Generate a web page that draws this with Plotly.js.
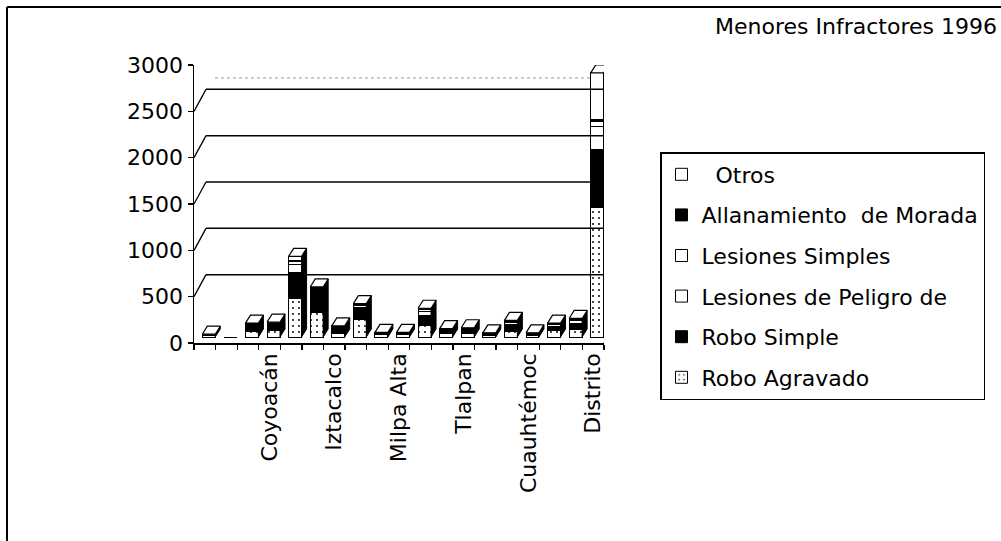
<!DOCTYPE html>
<html>
<head>
<meta charset="utf-8">
<script src="https://cdn.plot.ly/plotly-3.0.1.min.js"></script>
<style>
  html, body { margin: 0; padding: 0; background: #fff; }
  #chart { width: 1001px; height: 541px; }
</style>
</head>
<body>
<div id="chart"></div>
<script>
// ---- data ----
const categories = ["Álvaro Obregón", "Azcapotzalco", "Benito Juárez", "Coyoacán", "Cuajimalpa",
  "Gustavo A. Madero", "Iztacalco", "Iztapalapa", "Magdalena Contreras", "Milpa Alta",
  "Miguel Hidalgo", "Tláhuac", "Tlalpan", "Venustiano Carranza", "Xochimilco",
  "Cuauhtémoc", "Otros Estados", "No especificado", "Distrito"];
const tickLabels = ["Coyoacán", "Iztacalco", "Milpa Alta", "Tlalpan", "Cuauhtémoc", "Distrito"];

const roboAgravado    = [15, 0, 60, 70, 420, 260, 40, 190, 25, 25, 120, 35, 40, 20, 60, 20, 70, 80, 1400];
const roboSimple      = [5, 0, 50, 50, 280, 240, 50, 130, 10, 12, 110, 35, 40, 12, 70, 10, 45, 70, 620];
const lesionesPeligro = [3, 0, 15, 15, 80, 15, 10, 15, 5, 5, 45, 8, 8, 5, 25, 5, 15, 25, 250];
const lesionesSimples = [3, 0, 10, 10, 40, 10, 8, 10, 4, 3, 20, 5, 5, 3, 12, 4, 10, 10, 60];
const allanamiento    = [1, 0, 5, 5, 10, 5, 4, 5, 2, 1, 5, 2, 2, 1, 3, 2, 2, 5, 20];
const otros           = [3, 0, 10, 10, 40, 10, 8, 10, 4, 4, 10, 5, 5, 4, 10, 4, 8, 10, 500];

const yTicks = [0, 500, 1000, 1500, 2000, 2500, 3000];

// ---- geometry / style ----
const FONT = "DejaVu Sans";
const L = 194, R = 604, T = 65, B = 343;       // plot area in pixels
const pxPerCat = (R - L) / categories.length;
const pxPerUnit = (B - T) / 3000;
const shiftPx = 4, depthX = 5, depthY = 8, floorLift = 6;
const barW = 0.6;
const shiftX = shiftPx / pxPerCat;
const dX = depthX / pxPerCat;
const dY = depthY / pxPerUnit;
const liftUnits = floorLift / pxPerUnit;
const px2X = p => (p - L) / (R - L);
const px2Y = p => (B - p) / (B - T);

const idx = categories.map((c, i) => i);

const seriesDefs = [
  {name: "Robo Agravado", data: roboAgravado, color: "white",
   pattern: {shape: ".", fgcolor: "black", bgcolor: "white", size: 6, solidity: 0.08}},
  {name: "Robo Simple", data: roboSimple, color: "black"},
  {name: "Lesiones de Peligro de", data: lesionesPeligro, color: "white"},
  {name: "Lesiones Simples", data: lesionesSimples, color: "white"},
  {name: "Allanamiento\u00a0 de Morada", data: allanamiento, color: "black"},
  {name: "\u00a0\u00a0Otros", data: otros, color: "white"}
];

const traces = seriesDefs.map((s, k) => ({
  type: "bar",
  name: s.name,
  legendgroup: s.name,
  legendrank: seriesDefs.length - k,
  x: idx,
  y: s.data,
  width: barW,
  offset: -barW / 2 + shiftX,
  xaxis: "x",
  yaxis: "y2",
  marker: Object.assign({color: s.color, line: {color: "black", width: 1}},
                        s.pattern ? {pattern: s.pattern} : {}),
  hoverinfo: "skip"
}));

// 3D top and side faces, computed from the stacked totals
const totals = idx.map(i => seriesDefs.reduce((a, s) => a + s.data[i], 0));
const topX = [], topY = [], sideX = [], sideY = [];
idx.forEach(i => {
  if (totals[i] <= 0) return;
  const l = i + shiftX - barW / 2, r = i + shiftX + barW / 2, t = totals[i];
  topX.push(l, r, r + dX, l + dX, l, null);
  topY.push(t, t, t + dY, t + dY, t, null);
  sideX.push(r, r + dX, r + dX, r, r, null);
  sideY.push(0, dY, t + dY, t, 0, null);
});
traces.push({type: "scatter", mode: "lines", x: sideX, y: sideY, fill: "toself",
  fillcolor: "black", line: {color: "black", width: 1}, xaxis: "x", yaxis: "y2",
  showlegend: false, hoverinfo: "skip"});
traces.push({type: "scatter", mode: "lines", x: topX, y: topY, fill: "toself",
  fillcolor: "white", line: {color: "black", width: 1.2}, xaxis: "x", yaxis: "y2",
  showlegend: false, hoverinfo: "skip"});

// back-wall gridlines with diagonal stubs
const shapes = [];
yTicks.filter(v => v > 0 && v < 3000).forEach(v => {
  shapes.push({type: "line", xref: "x", yref: "y", xsizemode: "pixel", ysizemode: "pixel",
    xanchor: -0.5, yanchor: v, x0: 0, x1: 12, y0: 0, y1: 22,
    line: {color: "black", width: 1.3}});
  shapes.push({type: "line", xref: "x", yref: "y", xsizemode: "pixel", ysizemode: "pixel",
    xanchor: -0.5, yanchor: v, x0: 12, x1: 617 - L, y0: 22, y1: 22,
    line: {color: "black", width: 1.5}});
});
// right floor edge
shapes.push({type: "line", xref: "x", yref: "y", xsizemode: "pixel", ysizemode: "pixel",
  xanchor: categories.length - 0.5, yanchor: 0, x0: 0, x1: 12, y0: 0, y1: 22,
  line: {color: "black", width: 1.3}});
// faint dotted line near the top of the wall
shapes.push({type: "line", xref: "paper", yref: "paper", x0: px2X(215), x1: px2X(590),
  y0: px2Y(78), y1: px2Y(78), line: {color: "#999", width: 1, dash: "dot"}});
// outer frame (left and top)
shapes.push({type: "line", xref: "paper", yref: "paper", x0: px2X(7), x1: px2X(7),
  y0: px2Y(7), y1: px2Y(541), line: {color: "black", width: 2}});
shapes.push({type: "line", xref: "paper", yref: "paper", x0: px2X(7), x1: px2X(1001),
  y0: px2Y(7), y1: px2Y(7), line: {color: "black", width: 2}});

const layout = {
  width: 1001, height: 541,
  margin: {l: L, r: 1001 - R, t: T, b: 541 - B, pad: 0},
  paper_bgcolor: "white", plot_bgcolor: "white",
  font: {family: FONT, size: 22, color: "black"},
  showlegend: true,
  barmode: "stack",
  hovermode: false,
  title: {text: "Menores Infractores 1996", xref: "container", yref: "container",
    x: 997 / 1001, xanchor: "right", y: 1 - 26 / 541, yanchor: "middle",
    font: {family: FONT, size: 22, color: "black"}},
  xaxis: {
    type: "linear", range: [-0.5, categories.length - 0.5],
    tickmode: "array",
    tickvals: tickLabels.map(c => categories.indexOf(c)),
    ticktext: tickLabels,
    tickangle: -90, ticks: "", showgrid: false, zeroline: false,
    showline: true, linecolor: "black", linewidth: 1.5,
    tickfont: {family: FONT, size: 22, color: "black"},
    minor: {ticks: "outside", ticklen: 5, tickcolor: "black", tickwidth: 1.3,
      tick0: -0.5, dtick: 1, showgrid: false},
    fixedrange: true
  },
  yaxis: {
    range: [0, 3000], tickmode: "array", tickvals: yTicks,
    ticks: "outside", ticklen: 5, tickcolor: "black", tickwidth: 1.3,
    showgrid: false, zeroline: false,
    showline: true, linecolor: "black", linewidth: 1.5,
    tickfont: {family: FONT, size: 22, color: "black"},
    fixedrange: true
  },
  yaxis2: {
    overlaying: "y", range: [-liftUnits, 3000 - liftUnits], visible: false, fixedrange: true
  },
  legend: {
    x: px2X(660), y: px2Y(152), xanchor: "left", yanchor: "top",
    bordercolor: "black", borderwidth: 1.5, bgcolor: "white",
    font: {family: FONT, size: 22, color: "black"},
    traceorder: "grouped", tracegroupgap: 9
  },
  shapes: shapes
};

Plotly.newPlot("chart", traces, layout, {staticPlot: true, displayModeBar: false});
</script>
</body>
</html>
